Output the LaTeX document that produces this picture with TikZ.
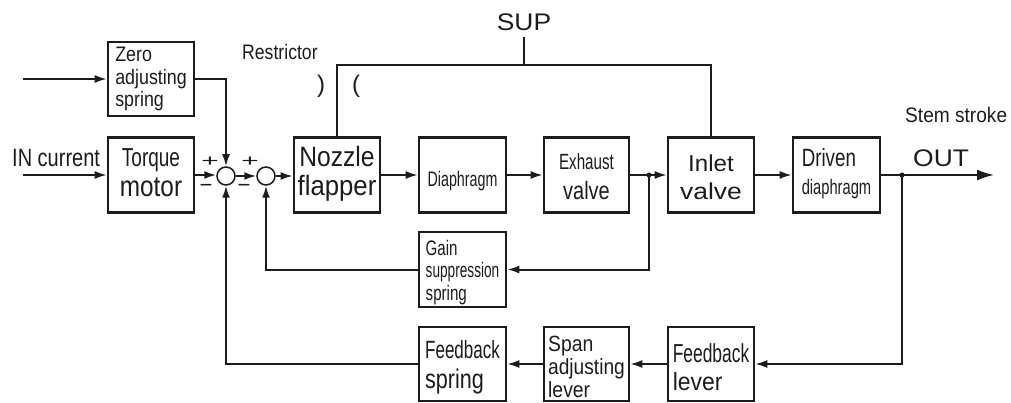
\documentclass[tikz,border=0pt]{standalone}
\usepackage{graphicx}
\usepackage{fontspec}
\setmainfont{Liberation Sans}
\usetikzlibrary{arrows.meta}
\newcommand{\sx}[2]{\scalebox{#1}[1]{#2}}
\newcommand{\fs}[2]{\fontsize{#1}{#2}\selectfont}
\definecolor{ink}{HTML}{1C1C1C}
\begin{document}
\begin{tikzpicture}[x=1pt,y=-1pt,
  box/.style={draw=ink, line width=2.6pt, inner xsep=0pt, inner ysep=0pt, minimum height=75pt, text=ink},
  conn/.style={draw=ink, line width=2pt},
  arr/.style={conn, -{Latex[length=12pt,width=8pt]}},
  bigarr/.style={conn, -{Latex[length=17pt,width=11pt]}},
  sum/.style={circle, draw=ink, line width=1.5pt, minimum size=18pt, inner sep=0pt},
  lbl/.style={inner sep=0pt, text=ink},
  dot/.style={circle, fill=ink, inner sep=0pt, minimum size=5pt}
]
\useasboundingbox (0,0) rectangle (1011,403);

% ---- boxes ----
\node[box, minimum width=86pt, minimum height=74pt, align=left, font=\fs{21}{22.5},
      text height=58pt, text depth=2pt] (zero) at (151,79)
  {\sx{0.85}{Zero}\\\sx{0.85}{adjusting}\\\sx{0.85}{spring}};
\node[box, minimum width=86pt, align=center, font=\fs{26}{30},
      text height=52pt, text depth=8pt] (torque) at (151,175)
  {\sx{0.73}{Torque}\\\sx{0.84}{\fs{29}{30}motor}};
\node[box, minimum width=86pt, align=center, font=\fs{28}{29},
      text height=51pt, text depth=9pt] (nozzle) at (337,175)
  {\sx{0.88}{Nozzle}\\\sx{0.92}{flapper}};
\node[box, minimum width=87pt, font=\fs{21}{21},
      text height=42pt, text depth=18pt] (diaph) at (462.5,175)
  {\sx{0.68}{Diaphragm}};
\node[box, minimum width=85pt, align=center, font=\fs{22}{30},
      text height=55pt, text depth=5pt] (exhaust) at (586.5,175)
  {\sx{0.69}{Exhaust}\\\sx{0.8}{\fs{25}{30}valve}};
\node[box, minimum width=86pt, align=center, font=\fs{23}{28},
      text height=55pt, text depth=5pt] (inlet) at (711,175)
  {\sx{1.05}{Inlet}\\\sx{1.15}{valve}};
\node[box, minimum width=87pt, align=left, font=\fs{25}{28},
      text height=50pt, text depth=10pt] (driven) at (836.5,175)
  {\sx{0.75}{Driven}\\\sx{0.7}{\fs{21}{28}diaphragm}};
\node[box, minimum width=87pt, align=left, font=\fs{21}{22.5},
      text height=61.5pt, text depth=0.5pt] (gain) at (462.5,269.5)
  {\sx{0.72}{Gain}\\\sx{0.65}{suppression}\\\sx{0.72}{spring}};
\node[box, minimum width=87pt, minimum height=74pt, align=left, font=\fs{25}{30},
      text height=54pt, text depth=6pt] (fbspring) at (462.5,364)
  {\sx{0.68}{Feedback}\\\sx{0.8}{\fs{27}{30}spring}};
\node[box, minimum width=85pt, minimum height=74pt, align=left, font=\fs{22}{23},
      text height=68pt, text depth=2pt] (span) at (586.5,364)
  {\sx{0.88}{Span}\\\sx{0.87}{adjusting}\\\sx{0.88}{lever}};
\node[box, minimum width=86pt, minimum height=74pt, align=left, font=\fs{26}{28},
      text height=56pt, text depth=4pt] (fblever) at (711,364)
  {\sx{0.67}{Feedback}\\\sx{0.92}{\fs{25}{28}lever}};

% ---- summing points ----
\node[sum] (s1) at (226,176) {};
\node[sum] (s2) at (266,176) {};
\node[lbl, font=\fs{22}{22}] (p1) at (210,162) {\scalebox{1.35}[0.75]{+}};
\node[lbl, font=\fs{22}{22}] (m1) at (206,188) {−};
\node[lbl, font=\fs{22}{22}] (p2) at (250,162) {\scalebox{1.35}[0.75]{+}};
\node[lbl, font=\fs{22}{22}] (m2) at (244,188) {−};

% ---- texts ----
\node[lbl, anchor=base west, font=\fs{25}{25}] (inlbl) at (12,167) {\sx{0.8}{IN current}};
\node[lbl, anchor=base west, font=\fs{21}{21}] (restr) at (242,60) {\sx{0.84}{Restrictor}};
\node[lbl, anchor=base, font=\fs{24}{24}] (suplbl) at (524,31) {\sx{1.1}{SUP}};
\node[lbl, anchor=base west, font=\fs{21}{21}] (stem) at (905,123) {\sx{0.91}{Stem stroke}};
\node[lbl, anchor=base west, font=\fs{24}{24}] (outlbl) at (913,167) {\sx{1.1}{OUT}};
\node[lbl, font=\fs{24}{24}] (rp) at (321,86) {)};
\node[lbl, font=\fs{24}{24}] (lp) at (356,86) {(};

% ---- coordinates ----
\coordinate (inZ) at (23,79);
\coordinate (inT) at (23,175);
\coordinate (j1) at (649,175);
\coordinate (j2) at (902,175);
\coordinate (outE) at (994,175);
\coordinate (supJ) at (524,65);
\coordinate (supT) at (524,37);

% ---- connectors ----
\draw[arr] (inZ) -- (zero.west);
\draw[arr] (inT) -- (torque.west);
\draw[arr] (torque.east) -- (torque.east -| s1.west);
\draw[arr] (s1.east) -- (s2.west);
\draw[arr] (s2.east) -- (s2.east -| nozzle.west);
\draw[arr] (zero.east) -| (s1.north);
\draw[arr] (nozzle.east) -- (diaph.west);
\draw[arr] (diaph.east) -- (exhaust.west);
\draw[arr] (exhaust.east) -- (inlet.west);
\draw[arr] (inlet.east) -- (driven.west);
\draw[bigarr] (driven.east) -- (outE);
\draw[arr] (j1) |- (gain.east);
\draw[arr] (gain.west) -| (s2.south);
\draw[arr] (j2) |- (fblever.east);
\draw[arr] (fblever.west) -- (span.east);
\draw[arr] (span.west) -- (fbspring.east);
\draw[arr] (fbspring.west) -| (s1.south);
\draw[conn] (nozzle.north) |- (supJ) -| (inlet.north);
\draw[conn] (supT) -- (supJ);
\node[dot] (d1) at (j1) {};
\node[dot] (d2) at (j2) {};
\end{tikzpicture}
\end{document}
